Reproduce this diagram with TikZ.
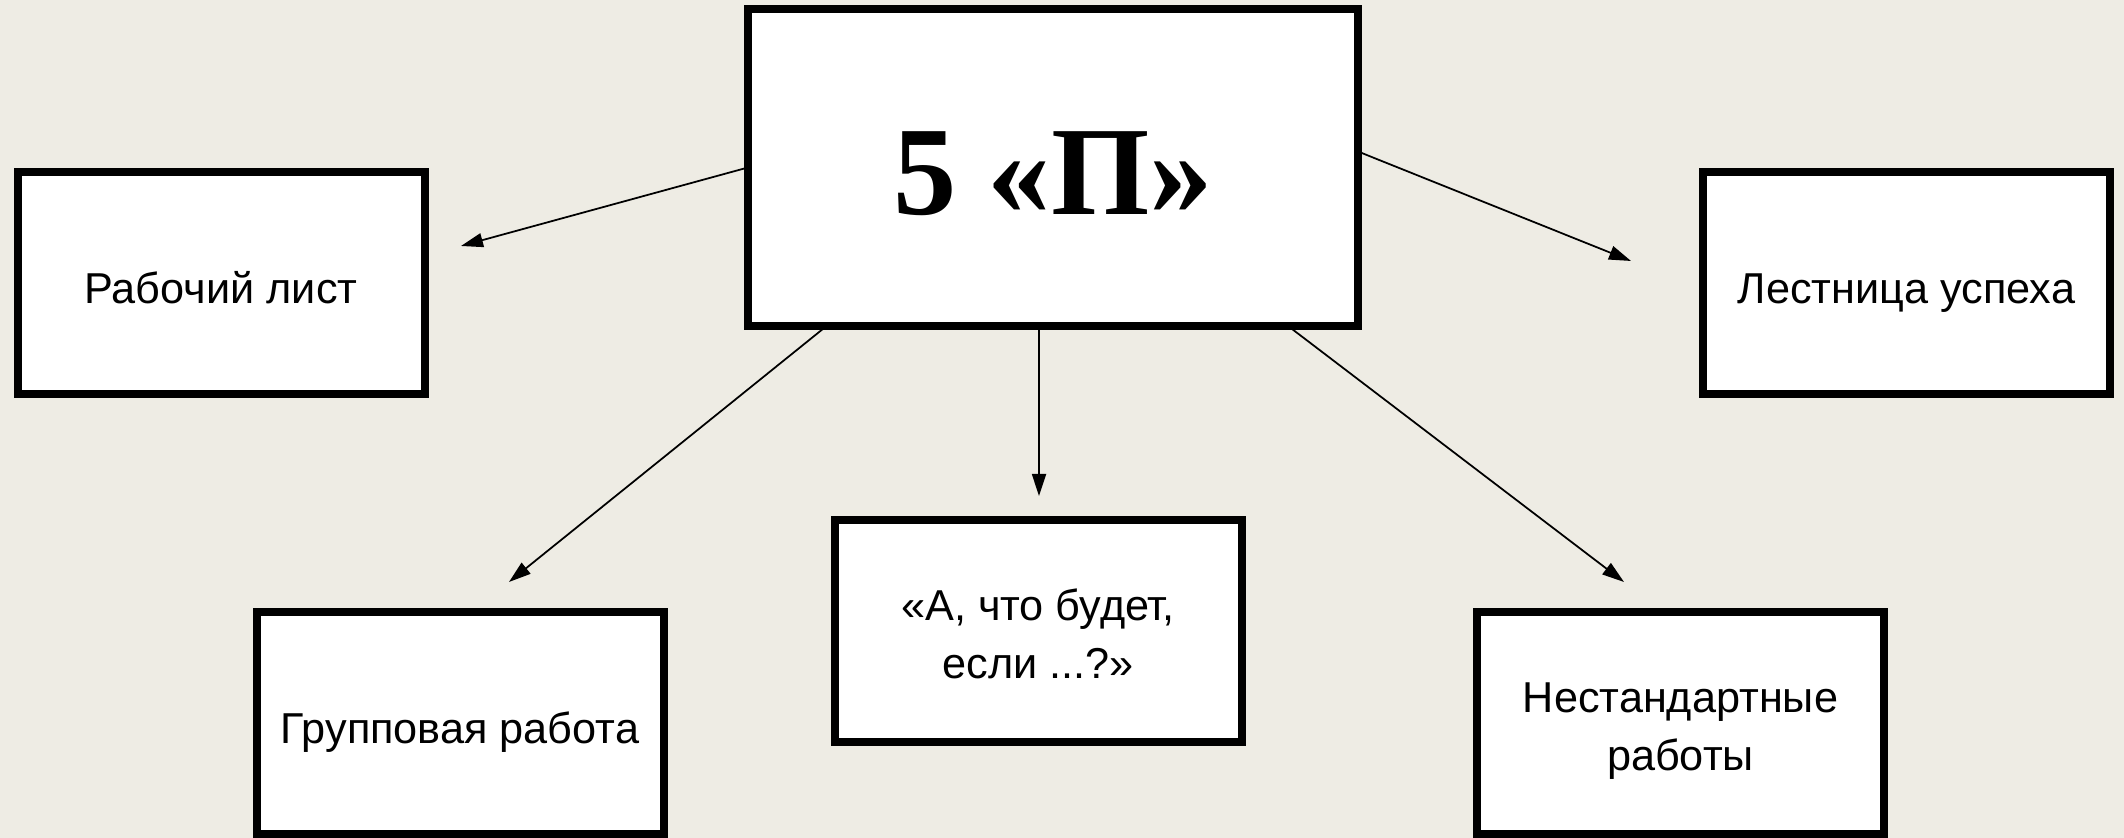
\documentclass[tikz,border=0pt]{standalone}
\usepackage{fontspec}
\setmainfont{Liberation Sans}
\newfontfamily\titlefont{Liberation Serif}
\usetikzlibrary{arrows.meta}
\definecolor{paper}{RGB}{238,236,228}

\begin{document}
\begin{tikzpicture}[
	box/.style={draw=black, line width=0.08cm, fill=white, inner sep=0pt, outer sep=0pt,
		minimum width=4.07cm, minimum height=2.22cm, align=center,
		font=\fontsize{12.3}{16.5}\selectfont},
	oneline/.style={text height=11.5pt, text depth=0pt},
	arr/.style={line width=0.5pt, -{Triangle[length=2.2mm,width=1.4mm]}}
	]
	\fill[paper] (0,0) rectangle (21.24,8.38);
	\useasboundingbox (0,0) rectangle (21.24,8.38);
	% centre
	\node[box, minimum width=6.10cm, minimum height=3.17cm, text height=26.5pt, text depth=0pt,
		font=\titlefont\bfseries\fontsize{36}{40}\selectfont] (main) at (10.53,6.705) {5 «П»};
	% the five
	\node[box, oneline] (rab) at (2.21,5.55) {Рабочий лист};
	\node[box, oneline] (lest) at (19.065,5.55) {Лестница успеха};
	\node[box, oneline] (grup) at (4.60,1.15) {Групповая работа};
	\node[box] (esli) at (10.38,2.065) {\rule{0pt}{10.5pt}«А, что будет,\\ если ...?»};
	\node[box] (nest) at (16.805,1.15) {\rule{0pt}{13pt}Нестандартные\\ работы};
	% arrow tips stop short of the boxes
	\coordinate (tipRab) at (4.61,5.92);
	\coordinate (tipLest) at (16.31,5.77);
	\coordinate (tipGrup) at (5.09,2.56);
	\coordinate (tipEsli) at (10.39,3.42);
	\coordinate (tipNest) at (16.24,2.56);
	\draw[arr] (main.west) -- (tipRab);
	\draw[arr] (main.3) -- (tipLest);
	\draw[arr] (main.215.4) -- (tipGrup);
	\draw[arr] (main.south -| tipEsli) -- (tipEsli);
	\draw[arr] (main.326) -- (tipNest);
\end{tikzpicture}
\end{document}
